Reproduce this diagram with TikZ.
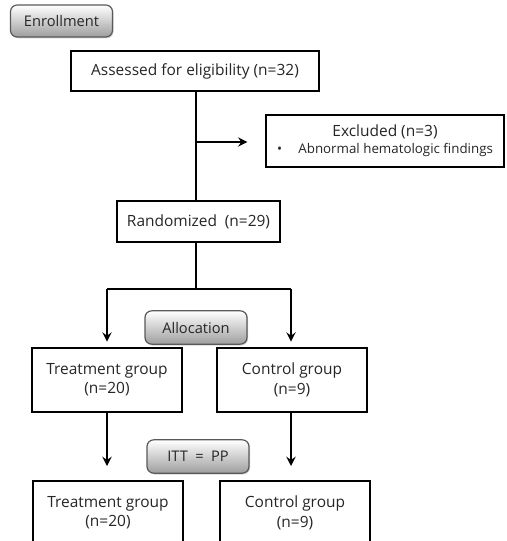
\documentclass[tikz,border=0pt]{standalone}
\usepackage{fontspec}
\setmainfont{Open Sans}
\usetikzlibrary{arrows.meta,shadows}
\begin{document}
\begin{tikzpicture}[x=0.75pt,y=-0.75pt,
  box/.style={draw=black,line width=1.5pt,fill=white,align=center,inner sep=0pt,
    font=\fontsize{11.6}{14.5}\selectfont,text=black!85},
  pill/.style={draw=black!65,line width=0.9pt,rounded corners=5pt,top color=white,bottom color=black!38,
    drop shadow={shadow xshift=0.8pt,shadow yshift=-1pt,opacity=0.35},
    align=center,inner sep=0pt,font=\fontsize{11}{13}\selectfont,text=black!85},
  conn/.style={line width=1.5pt,black},
  arr/.style={conn,-{Stealth[length=7pt,width=7pt,inset=2.5pt]}}]
\useasboundingbox (0,0) rectangle (506,541);
\node[pill,minimum width=76.5pt,minimum height=24pt] (enroll) at (61.5,21) {Enrollment};
\node[box,minimum width=186pt,minimum height=30pt] (assess) at (195,71) {Assessed for eligibility (n=32)};
\node[box,minimum width=179pt,minimum height=39pt] (excl) at (385,141)
  {Excluded (n=3)\\[-2pt]{\fontsize{10}{12}\selectfont\makebox[14pt][l]{\textbullet}\hspace{2pt}Abnormal hematologic findings}};
\node[box,minimum width=122pt,minimum height=31pt] (rand) at (198.5,221.5) {Randomized\enspace(n=29)};
\node[pill,minimum width=76.5pt,minimum height=25pt] (alloc) at (196,327.5) {Allocation};
\node[box,minimum width=112.5pt,minimum height=48pt] (t1) at (107,380) {Treatment group\\(n=20)};
\node[box,minimum width=112.5pt,minimum height=48pt] (c1) at (292,380) {Control group\\(n=9)};
\node[pill,minimum width=76.5pt,minimum height=25pt] (itt) at (198,456.5) {ITT\enspace=\enspace PP};
\node[box,minimum width=112.5pt,minimum height=48pt] (t2) at (108,513) {Treatment group\\(n=20)};
\node[box,minimum width=112.5pt,minimum height=48pt] (c2) at (295,513) {Control group\\(n=9)};
\coordinate (top) at (196,91);
\coordinate (br) at (196,142);
\coordinate (split) at (196,289);
\coordinate (sl) at (107,289);
\coordinate (sr) at (291,289);
\draw[conn] (assess.south -| top) -- (br |- rand.north);
\draw[arr,shorten >=13pt] (br) -- (br -| excl.west);
\draw[conn] (rand.south -| split) -- (split);
\draw[conn] (sl) -- (sr);
\draw[arr,shorten >=4pt] (sl) -- (sl |- t1.north);
\draw[arr,shorten >=4pt] (sr) -- (sr |- c1.north);
\draw[arr,shorten >=10.5pt] (t1.south -| sl) -- (sl |- t2.north);
\draw[arr,shorten >=10.5pt] (c1.south -| sr) -- (sr |- c2.north);
\end{tikzpicture}
\end{document}
